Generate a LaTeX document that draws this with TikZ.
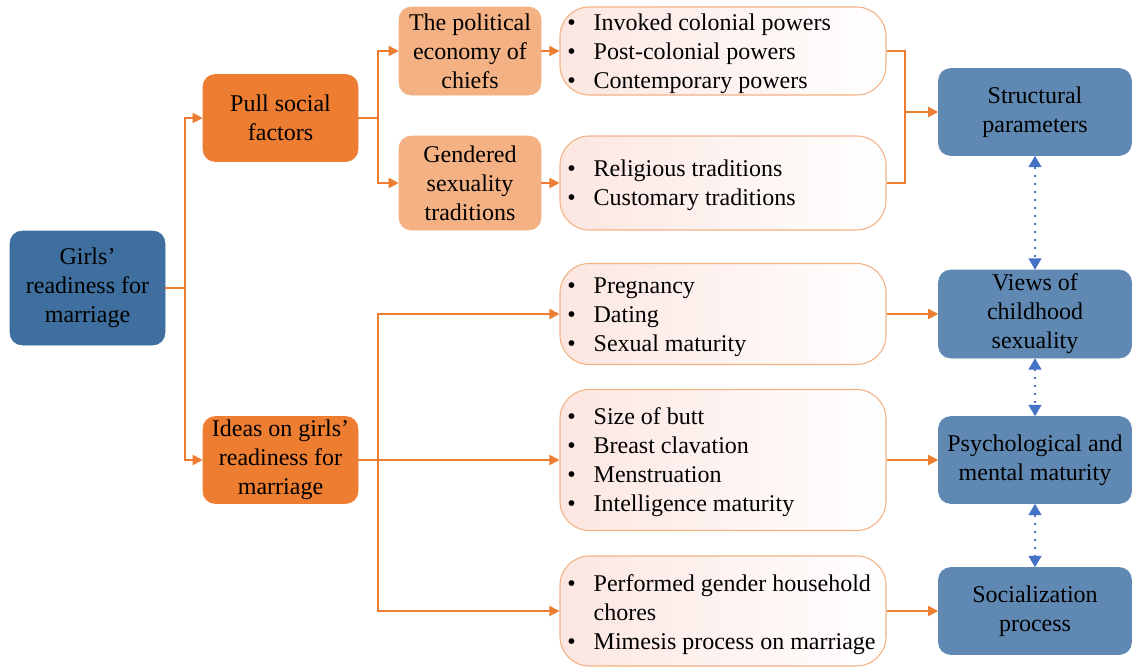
\documentclass[tikz,border=0pt]{standalone}
\usepackage{fontspec}
\newfontfamily\tnr{LiberationSerif}[Extension=.ttf, UprightFont=*-Regular, BoldFont=*-Bold]
\usetikzlibrary{arrows.meta}
\definecolor{dblue}{HTML}{3F6F9E}
\definecolor{mblue}{HTML}{5F88B3}
\definecolor{orng}{HTML}{ED7D31}
\definecolor{lorng}{HTML}{F4B183}
\definecolor{pinkf}{HTML}{FCE6E1}
\definecolor{dotblue}{HTML}{4472C4}
\tikzset{
  wh/.style 2 args={minimum width=#1*0.75pt, minimum height=#2*0.75pt},
  base/.style={inner sep=0pt, align=center, font=\tnr\fontsize{18}{21.75}\selectfont, text=black},
  darkbox/.style={base, fill=dblue, draw=dblue, rounded corners=9pt},
  bluebox/.style={base, fill=mblue, draw=mblue, rounded corners=9pt},
  orbox/.style={base, fill=orng, draw=orng, rounded corners=9pt},
  lorbox/.style={base, fill=lorng, draw=lorng, rounded corners=9pt},
  listbox/.style={base, draw=lorng, line width=0.8pt, rounded corners=22pt, left color=pinkf, right color=white},
  listtext/.style={base, align=left, anchor=west, yshift=-1.8pt},
  conn/.style={draw=orng, line width=1.3pt},
  arr/.style={conn, -{Triangle[length=7.5pt,width=7.5pt]}},
  dotarr/.style={draw=dotblue, line width=1.6pt, dash pattern=on 1.6pt off 4.4pt,
    {Triangle[length=8.5pt,width=9.5pt]}-{Triangle[length=8.5pt,width=9.5pt]}}
}
\newcommand{\bul}{\textbullet}
\begin{document}
\begin{tikzpicture}[x=0.75pt,y=-0.75pt]
\useasboundingbox (0,0) rectangle (1133,668);
% main boxes
\node[darkbox, wh={155}{114}] (girls) at (87.5,288) {Girls’\\readiness for\\marriage};
\node[orbox, wh={155}{87}] (pull) at (280.5,118) {Pull social\\factors};
\node[orbox, wh={155}{87}] (ideas) at (280.5,460) {Ideas on girls’\\readiness for\\marriage};
\node[lorbox, wh={142}{88}] (pol) at (470,51) {The political\\economy of\\chiefs};
\node[lorbox, wh={142}{94}] (gen) at (470,183) {Gendered\\sexuality\\traditions};
% list boxes
\node[listbox, wh={326}{88}] (l1) at (723,51) {};
\node[listbox, wh={326}{94}] (l2) at (723,183) {};
\node[listbox, wh={326}{101}] (l3) at (723,314) {};
\node[listbox, wh={326}{141}] (l4) at (723,460) {};
\node[listbox, wh={326}{110}] (l5) at (723,611) {};
\def\bsep{\hspace{13.5pt}}
\node[listtext] (l1t) at (567,51) {\bul\bsep Invoked colonial powers\\\bul\bsep Post-colonial powers\\\bul\bsep Contemporary powers};
\node[listtext] (l2t) at (567,183) {\bul\bsep Religious traditions\\\bul\bsep Customary traditions};
\node[listtext] (l3t) at (567,314.5) {\bul\bsep Pregnancy\\\bul\bsep Dating\\\bul\bsep Sexual maturity};
\node[listtext] (l4t) at (567,459.5) {\bul\bsep Size of butt\\\bul\bsep Breast clavation\\\bul\bsep Menstruation\\\bul\bsep Intelligence maturity};
\node[listtext] (l5t) at (567,612) {\bul\bsep Performed gender household\\\phantom{\bul}\bsep chores\\\bul\bsep Mimesis process on marriage};
% right boxes
\node[bluebox, wh={193}{87}] (str) at (1035,112) {Structural\\parameters};
\node[bluebox, wh={193}{88}] (views) at (1035,314) {Views of\\childhood\\sexuality};
\node[bluebox, wh={193}{87}] (psych) at (1035,460) {Psychological and\\mental maturity};
\node[bluebox, wh={193}{87}] (social) at (1035,611) {Socialization\\process};
% junctions
\coordinate (j1) at (185,288);
\coordinate (j2) at (378,118);
\coordinate (j3) at (905,112);
\coordinate (j4) at (378,460);
% connectors
\draw[conn] (girls.east) -- (j1);
\draw[arr] (j1) |- (pull.west);
\draw[arr] (j1) |- (ideas.west);
\draw[conn] (pull.east) -- (j2);
\draw[arr] (j2) |- (pol.west);
\draw[arr] (j2) |- (gen.west);
\draw[arr] (pol.east) -- (l1.west);
\draw[arr] (gen.east) -- (l2.west);
\draw[conn] (l1.east) -| (j3);
\draw[conn] (l2.east) -| (j3);
\draw[arr] (j3) -- (str.west);
\draw[conn] (ideas.east) -- (j4);
\draw[arr] (j4) |- (l3.west);
\draw[arr] (j4) -- (l4.west);
\draw[arr] (j4) |- (l5.west);
\draw[arr] (l3.east) -- (views.west);
\draw[arr] (l4.east) -- (psych.west);
\draw[arr] (l5.east) -- (social.west);
\draw[dotarr] (str.south) -- (views.north);
\draw[dotarr] (views.south) -- (psych.north);
\draw[dotarr] (psych.south) -- (social.north);
\end{tikzpicture}
\end{document}
